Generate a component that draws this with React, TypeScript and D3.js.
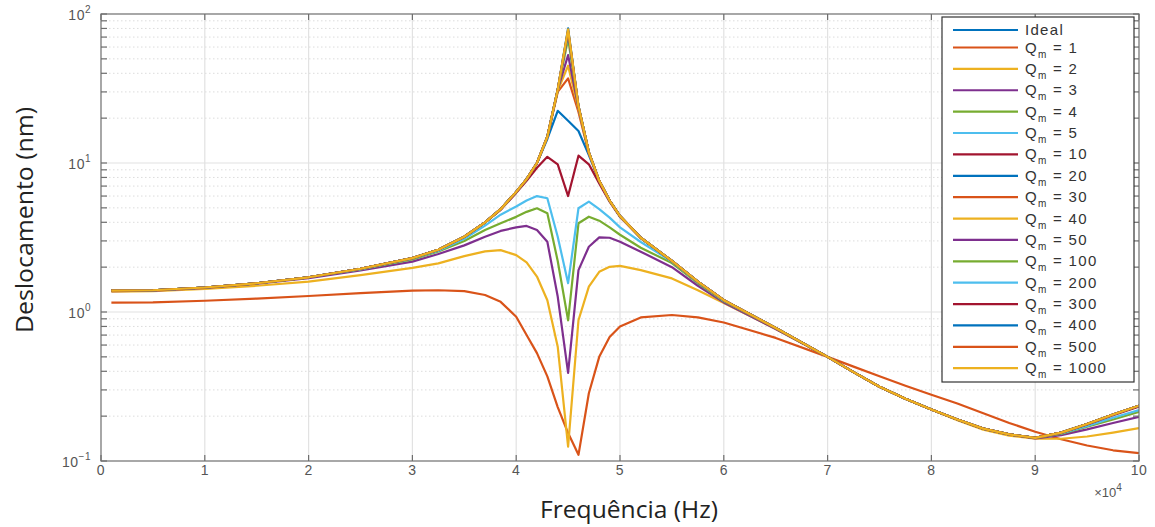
import React from "react";
import * as d3 from "d3";

const W = 1155;
const H = 527;
const PLOT = { left: 101, right: 1139, top: 14, bottom: 461 };

// Frequency samples (Hz)
const frequencyHz = [
  1000, 5000, 10000, 15000, 20000, 25000, 30000, 32500, 35000, 37000, 38500,
  40000, 41000, 42000, 43000, 44000, 45000, 46000, 47000, 48000, 49000, 50000,
  52000, 55000, 57500, 60000, 65000, 70000, 72500, 75000, 77500, 80000, 82500,
  85000, 87500, 90000, 92500, 95000, 97500, 100000,
];

// Displacement (nm) per series
const ideal = [1.39, 1.4, 1.46, 1.56, 1.71, 1.95, 2.3, 2.62, 3.2, 4.0, 4.9, 6.4, 7.8, 10.0, 15.0, 31, 80, 24, 11.8, 7.6, 5.6, 4.4, 3.15, 2.2, 1.6, 1.2, 0.78, 0.5, 0.395, 0.315, 0.262, 0.222, 0.19, 0.165, 0.151, 0.143, 0.155, 0.177, 0.205, 0.235];
const qm1 = [1.155, 1.16, 1.19, 1.23, 1.28, 1.34, 1.39, 1.4, 1.38, 1.3, 1.17, 0.93, 0.7, 0.53, 0.37, 0.23, 0.154, 0.11, 0.285, 0.5, 0.68, 0.8, 0.92, 0.955, 0.92, 0.85, 0.67, 0.5, 0.43, 0.37, 0.32, 0.278, 0.243, 0.209, 0.18, 0.157, 0.14, 0.127, 0.118, 0.113];
const qm2 = [1.37, 1.38, 1.43, 1.5, 1.6, 1.77, 1.98, 2.12, 2.37, 2.55, 2.6, 2.41, 2.15, 1.73, 1.2, 0.585, 0.125, 0.88, 1.48, 1.86, 2.01, 2.04, 1.91, 1.68, 1.4, 1.15, 0.77, 0.5, 0.395, 0.315, 0.262, 0.222, 0.188, 0.162, 0.148, 0.141, 0.141, 0.146, 0.155, 0.166];
const qm3 = [1.38, 1.39, 1.45, 1.55, 1.69, 1.9, 2.18, 2.45, 2.8, 3.2, 3.5, 3.7, 3.78, 3.55, 2.96, 1.27, 0.39, 1.91, 2.74, 3.17, 3.15, 2.96, 2.54, 2.0, 1.5, 1.16, 0.77, 0.5, 0.395, 0.315, 0.262, 0.222, 0.19, 0.165, 0.151, 0.142, 0.149, 0.163, 0.18, 0.198];
const qm4 = [1.39, 1.4, 1.46, 1.56, 1.71, 1.93, 2.25, 2.55, 3.0, 3.55, 3.94, 4.35, 4.7, 4.97, 4.6, 2.2, 0.88, 3.94, 4.36, 4.1, 3.7, 3.3, 2.7, 2.13, 1.56, 1.18, 0.78, 0.5, 0.395, 0.315, 0.262, 0.222, 0.19, 0.165, 0.151, 0.143, 0.152, 0.17, 0.19, 0.214];
const qm5 = [1.39, 1.4, 1.46, 1.56, 1.71, 1.94, 2.28, 2.58, 3.1, 3.8, 4.5, 5.1, 5.6, 6.0, 5.8, 3.2, 1.56, 4.97, 5.5, 4.9, 4.3, 3.7, 2.95, 2.18, 1.58, 1.19, 0.78, 0.5, 0.395, 0.315, 0.262, 0.222, 0.19, 0.165, 0.151, 0.143, 0.153, 0.172, 0.195, 0.22];
const qm10 = [1.39, 1.4, 1.46, 1.56, 1.71, 1.95, 2.3, 2.62, 3.2, 4.0, 4.85, 6.3, 7.6, 9.3, 11.0, 9.8, 6.0, 11.2, 9.8, 7.3, 5.5, 4.35, 3.15, 2.2, 1.6, 1.2, 0.78, 0.5, 0.395, 0.315, 0.262, 0.222, 0.19, 0.165, 0.151, 0.143, 0.154, 0.176, 0.203, 0.232];
const qm20 = [1.39, 1.4, 1.46, 1.56, 1.71, 1.95, 2.3, 2.62, 3.2, 4.0, 4.9, 6.4, 7.8, 10.0, 14.5, 22.4, 19.2, 16.4, 11.3, 7.6, 5.6, 4.4, 3.15, 2.2, 1.6, 1.2, 0.78, 0.5, 0.395, 0.315, 0.262, 0.222, 0.19, 0.165, 0.151, 0.143, 0.155, 0.177, 0.205, 0.235];
const qm30 = [1.39, 1.4, 1.46, 1.56, 1.71, 1.95, 2.3, 2.62, 3.2, 4.0, 4.9, 6.4, 7.8, 10.0, 14.9, 30, 37, 22, 11.6, 7.6, 5.6, 4.4, 3.15, 2.2, 1.6, 1.2, 0.78, 0.5, 0.395, 0.315, 0.262, 0.222, 0.19, 0.165, 0.151, 0.143, 0.155, 0.177, 0.205, 0.235];
const qm40 = [1.39, 1.4, 1.46, 1.56, 1.71, 1.95, 2.3, 2.62, 3.2, 4.0, 4.9, 6.4, 7.8, 10.0, 15.0, 30.5, 45, 23, 11.8, 7.6, 5.6, 4.4, 3.15, 2.2, 1.6, 1.2, 0.78, 0.5, 0.395, 0.315, 0.262, 0.222, 0.19, 0.165, 0.151, 0.143, 0.155, 0.177, 0.205, 0.235];
const qm50 = [1.39, 1.4, 1.46, 1.56, 1.71, 1.95, 2.3, 2.62, 3.2, 4.0, 4.9, 6.4, 7.8, 10.0, 15.0, 31, 53, 23.5, 11.8, 7.6, 5.6, 4.4, 3.15, 2.2, 1.6, 1.2, 0.78, 0.5, 0.395, 0.315, 0.262, 0.222, 0.19, 0.165, 0.151, 0.143, 0.155, 0.177, 0.205, 0.235];
const qm100 = [1.39, 1.4, 1.46, 1.56, 1.71, 1.95, 2.3, 2.62, 3.2, 4.0, 4.9, 6.4, 7.8, 10.0, 15.0, 31, 68, 24, 11.8, 7.6, 5.6, 4.4, 3.15, 2.2, 1.6, 1.2, 0.78, 0.5, 0.395, 0.315, 0.262, 0.222, 0.19, 0.165, 0.151, 0.143, 0.155, 0.177, 0.205, 0.235];
const qm200 = [1.39, 1.4, 1.46, 1.56, 1.71, 1.95, 2.3, 2.62, 3.2, 4.0, 4.9, 6.4, 7.8, 10.0, 15.0, 31, 74, 24, 11.8, 7.6, 5.6, 4.4, 3.15, 2.2, 1.6, 1.2, 0.78, 0.5, 0.395, 0.315, 0.262, 0.222, 0.19, 0.165, 0.151, 0.143, 0.155, 0.177, 0.205, 0.235];
const qm300 = [1.39, 1.4, 1.46, 1.56, 1.71, 1.95, 2.3, 2.62, 3.2, 4.0, 4.9, 6.4, 7.8, 10.0, 15.0, 31, 76, 24, 11.8, 7.6, 5.6, 4.4, 3.15, 2.2, 1.6, 1.2, 0.78, 0.5, 0.395, 0.315, 0.262, 0.222, 0.19, 0.165, 0.151, 0.143, 0.155, 0.177, 0.205, 0.235];
const qm400 = [1.39, 1.4, 1.46, 1.56, 1.71, 1.95, 2.3, 2.62, 3.2, 4.0, 4.9, 6.4, 7.8, 10.0, 15.0, 31, 77, 24, 11.8, 7.6, 5.6, 4.4, 3.15, 2.2, 1.6, 1.2, 0.78, 0.5, 0.395, 0.315, 0.262, 0.222, 0.19, 0.165, 0.151, 0.143, 0.155, 0.177, 0.205, 0.235];
const qm500 = [1.39, 1.4, 1.46, 1.56, 1.71, 1.95, 2.3, 2.62, 3.2, 4.0, 4.9, 6.4, 7.8, 10.0, 15.0, 31, 78, 24, 11.8, 7.6, 5.6, 4.4, 3.15, 2.2, 1.6, 1.2, 0.78, 0.5, 0.395, 0.315, 0.262, 0.222, 0.19, 0.165, 0.151, 0.143, 0.155, 0.177, 0.205, 0.235];
const qm1000 = [1.39, 1.4, 1.46, 1.56, 1.71, 1.95, 2.3, 2.62, 3.2, 4.0, 4.9, 6.4, 7.8, 10.0, 15.0, 31, 79, 24, 11.8, 7.6, 5.6, 4.4, 3.15, 2.2, 1.6, 1.2, 0.78, 0.5, 0.395, 0.315, 0.262, 0.222, 0.19, 0.165, 0.151, 0.143, 0.155, 0.177, 0.205, 0.235];

const seriesValues = [ideal, qm1, qm2, qm3, qm4, qm5, qm10, qm20, qm30, qm40, qm50, qm100, qm200, qm300, qm400, qm500, qm1000];
const seriesNames = ["Ideal", "1", "2", "3", "4", "5", "10", "20", "30", "40", "50", "100", "200", "300", "400", "500", "1000"];
const seriesColors = [
  "#0072BD", "#D95319", "#EDB120", "#7E2F8E", "#77AC30", "#4DBEEE", "#A2142F",
  "#0072BD", "#D95319", "#EDB120", "#7E2F8E", "#77AC30", "#4DBEEE", "#A2142F",
  "#0072BD", "#D95319", "#EDB120",
];

const xTickLabels = ["0", "1", "2", "3", "4", "5", "6", "7", "8", "9", "10"];
const yTickExponents = [-1, 0, 1, 2];

const TICK_FONT = "'Liberation Sans', Arial, sans-serif";
const LABEL_FONT = "'Open Sans', 'Noto Sans', sans-serif";

export default function App() {
  const x = d3.scaleLinear().domain([0, 100000]).range([PLOT.left, PLOT.right]);
  const y = d3.scaleLog().domain([0.1, 100]).range([PLOT.bottom, PLOT.top]);

  const line = d3
    .line<[number, number]>()
    .x((d) => x(d[0]))
    .y((d) => y(d[1]))
    .curve(d3.curveLinear);

  const xTicks = xTickLabels.map((_, i) => i * 10000);
  const minorY: number[] = [];
  for (let e = -1; e < 2; e++) {
    for (let k = 2; k <= 9; k++) minorY.push(k * Math.pow(10, e));
  }
  const majorY = yTickExponents.map((e) => Math.pow(10, e));

  const axisColor = "#6e6e6e";
  const tickLen = 6;

  const legend = { x: 942, y: 17, w: 192, h: 365 };
  const rowY = (i: number) => (i === 0 ? 30 : 47.5 + (i - 1) * 21.38);

  return (
    <div>
      <style>{`body{margin:0;}`}</style>
      <svg width={W} height={H} style={{ display: "block", background: "#fff" }}>
        <defs>
          <clipPath id="plotClip">
            <rect x={PLOT.left} y={PLOT.top} width={PLOT.right - PLOT.left} height={PLOT.bottom - PLOT.top} />
          </clipPath>
        </defs>
        {/* minor y grid */}
        {minorY.map((v) => (
          <line key={"mg" + v} x1={PLOT.left} x2={PLOT.right} y1={y(v)} y2={y(v)} stroke="#dcdcdc" strokeWidth={1} strokeDasharray="1.5,2.5" />
        ))}
        {/* major grid */}
        {majorY.slice(1, -1).map((v) => (
          <line key={"Mg" + v} x1={PLOT.left} x2={PLOT.right} y1={y(v)} y2={y(v)} stroke="#e2e2e2" strokeWidth={1.2} />
        ))}
        {xTicks.slice(1, -1).map((v) => (
          <line key={"xg" + v} x1={x(v)} x2={x(v)} y1={PLOT.top} y2={PLOT.bottom} stroke="#e2e2e2" strokeWidth={1.2} />
        ))}

        {/* series */}
        <g clipPath="url(#plotClip)">
          {seriesValues.map((vals, si) => (
            <path
              key={"s" + si}
              d={line(vals.map((v, i) => [frequencyHz[i], v] as [number, number])) || ""}
              fill="none"
              stroke={seriesColors[si]}
              strokeWidth={2.2}
              strokeLinejoin="round"
            />
          ))}
        </g>

        {/* axes box */}
        <rect x={PLOT.left} y={PLOT.top} width={PLOT.right - PLOT.left} height={PLOT.bottom - PLOT.top} fill="none" stroke={axisColor} strokeWidth={1.2} />

        {/* x ticks */}
        {xTicks.map((v) => (
          <g key={"xt" + v}>
            <line x1={x(v)} x2={x(v)} y1={PLOT.bottom} y2={PLOT.bottom - tickLen} stroke={axisColor} strokeWidth={1.2} />
            <line x1={x(v)} x2={x(v)} y1={PLOT.top} y2={PLOT.top + tickLen} stroke={axisColor} strokeWidth={1.2} />
          </g>
        ))}
        {xTicks.map((v, i) => (
          <text key={"xl" + v} x={x(v)} y={475} textAnchor="middle" fontFamily={TICK_FONT} fontSize={14} fill="#555" letterSpacing={0.5}>
            {xTickLabels[i]}
          </text>
        ))}
        <text x={1108} y={497} textAnchor="middle" fontFamily={TICK_FONT} fontSize={13} fill="#555">
          <tspan>×10</tspan>
          <tspan dy={-6} fontSize={10}>4</tspan>
        </text>

        {/* y ticks */}
        {[...majorY, ...minorY].map((v) => (
          <g key={"yt" + v}>
            <line x1={PLOT.left} x2={PLOT.left + tickLen} y1={y(v)} y2={y(v)} stroke={axisColor} strokeWidth={1.2} />
            <line x1={PLOT.right} x2={PLOT.right - tickLen} y1={y(v)} y2={y(v)} stroke={axisColor} strokeWidth={1.2} />
          </g>
        ))}
        {yTickExponents.map((e) => (
          <text key={"yl" + e} x={91} y={y(Math.pow(10, e)) + 6} textAnchor="end" fontFamily={TICK_FONT} fontSize={14} fill="#555" letterSpacing={0.5}>
            <tspan>10</tspan>
            <tspan dy={-7} fontSize={10}>{String(e).replace("-", "\u2212")}</tspan>
          </text>
        ))}

        {/* axis labels */}
        <text x={629} y={518} textAnchor="middle" fontFamily={LABEL_FONT} fontSize={23} fill="#222" textLength={178} lengthAdjust="spacingAndGlyphs">
          Frequência (Hz)
        </text>
        <text transform="translate(33,220) rotate(-90)" textAnchor="middle" fontFamily={LABEL_FONT} fontSize={23} fill="#222" textLength={226} lengthAdjust="spacingAndGlyphs">
          Deslocamento (nm)
        </text>

        {/* legend */}
        <rect x={legend.x} y={legend.y} width={legend.w} height={legend.h} fill="#fff" stroke="#333" strokeWidth={1.2} />
        {seriesNames.map((name, i) => {
          const ry = rowY(i);
          return (
            <g key={"lg" + i}>
              <line x1={953} x2={1018} y1={ry} y2={ry} stroke={seriesColors[i]} strokeWidth={2.2} />
              {i === 0 ? (
                <text x={1025} y={ry + 5} fontFamily={TICK_FONT} fontSize={15} fill="#333" letterSpacing={1.3}>
                  {name}
                </text>
              ) : (
                <text x={1025} y={ry + 5} fontFamily={TICK_FONT} fontSize={15} fill="#333" letterSpacing={1.3}>
                  <tspan>Q</tspan>
                  <tspan dy={5} fontSize={10}>m</tspan>
                  <tspan dy={-5}>{" = " + name}</tspan>
                </text>
              )}
            </g>
          );
        })}
      </svg>
    </div>
  );
}
